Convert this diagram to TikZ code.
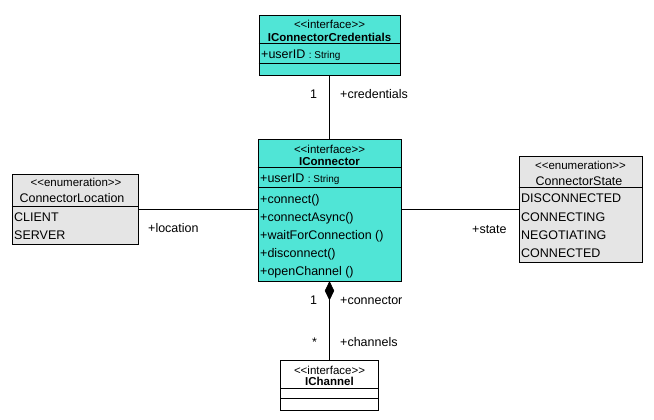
\documentclass[tikz,border=0pt]{standalone}
\usepackage{fontspec}
\setmainfont{Liberation Sans}
\usetikzlibrary{positioning, shapes.geometric}

\definecolor{ifacecyan}{RGB}{80,229,214}
\definecolor{enumgray}{RGB}{229,229,229}

\tikzset{
  classbox/.style={draw, line width=0.9pt, inner sep=0pt},
  txt/.style={inner sep=0pt, text height=9pt, text depth=0pt, anchor=west, font=\fontsize{12.5}{14}\selectfont},
  stereo/.style={inner sep=0pt, text height=9pt, text depth=0pt, font=\fontsize{11.5}{13}\selectfont},
  title/.style={stereo, font=\fontsize{11.5}{13}\selectfont\bfseries},
  link/.style={line width=0.9pt}
}

\begin{document}
\begin{tikzpicture}[x=1pt, y=-1pt]
\useasboundingbox (0,0) rectangle (654,420);

% boxes
\node[classbox, fill=ifacecyan, minimum width=141pt, minimum height=60pt] (cred) at (329.5,45) {};
\node[classbox, fill=ifacecyan, minimum width=143pt, minimum height=142pt] (conn) at (329.5,210) {};
\node[classbox, fill=enumgray, minimum width=126pt, minimum height=70pt] (loc) at (75,209) {};
\node[classbox, fill=enumgray, minimum width=123pt, minimum height=106pt] (state) at (580.5,209) {};
\node[classbox, fill=white, minimum width=98pt, minimum height=50pt] (chan) at (329.5,385) {};

% compartments
\draw[link] (cred.west |- 0,43) -- (cred.east |- 0,43);
\draw[link] (cred.west |- 0,63) -- (cred.east |- 0,63);
\draw[link] (conn.west |- 0,167) -- (conn.east |- 0,167);
\draw[link] (conn.west |- 0,187) -- (conn.east |- 0,187);
\draw[link] (loc.west |- 0,206) -- (loc.east |- 0,206);
\draw[link] (state.west |- 0,187) -- (state.east |- 0,187);
\draw[link] (chan.west |- 0,388) -- (chan.east |- 0,388);
\draw[link] (chan.west |- 0,398) -- (chan.east |- 0,398);

% IConnectorCredentials
\node[stereo] (credS) at (329.5,24) {<{}<interface>{}>};
\node[title] (credN) at (329.5,37) {IConnectorCredentials};
\node[txt] (credA) at (261,54) {+userID {\fontsize{10}{12}\selectfont : String}};

% IConnector
\node[stereo] (connS) at (329.5,149) {<{}<interface>{}>};
\node[title] (connN) at (329.5,161) {IConnector};
\node[txt] (connA) at (260,178) {+userID {\fontsize{10}{12}\selectfont : String}};
\node[txt] (op1) at (260,199) {+connect()};
\node[txt] (op2) at (260,217) {+connectAsync()};
\node[txt] (op3) at (260,235) {+waitForConnection ()};
\node[txt] (op4) at (260,253) {+disconnect()};
\node[txt] (op5) at (260,271) {+openChannel ()};

% ConnectorLocation
\node[stereo] (locS) at (76,182) {<{}<enumeration>{}>};
\node[stereo, font=\fontsize{12.5}{14}\selectfont] (locN) at (72,198) {ConnectorLocation};
\node[txt] (loc1) at (14,217) {CLIENT};
\node[txt] (loc2) at (14,235) {SERVER};

% ConnectorState
\node[stereo] (stateS) at (580.5,165) {<{}<enumeration>{}>};
\node[stereo, font=\fontsize{12.5}{14}\selectfont] (stateN) at (579,181) {ConnectorState};
\node[txt] (st1) at (521,198) {DISCONNECTED};
\node[txt] (st2) at (521,217) {CONNECTING};
\node[txt] (st3) at (521,235) {NEGOTIATING};
\node[txt] (st4) at (521,253) {CONNECTED};

% IChannel
\node[stereo] (chanS) at (329.5,370) {<{}<interface>{}>};
\node[title] (chanN) at (329.5,381) {IChannel};

% associations
\draw[link] (cred.south) -- (conn.north);
\draw[link] (loc.east) -- (loc.east -| conn.west);
\draw[link] (state.west) -- (state.west -| conn.east);
\node[diamond, draw, fill=black, line width=0.6pt, inner sep=0pt, minimum width=9pt, minimum height=18pt, anchor=north] (dia) at (conn.south) {};
\draw[link] (dia.south) -- (chan.north);

% role labels
\node[txt] (m1) at (310,94) {1};
\node[txt] (r1) at (340,94) {+credentials};
\node[txt] (r2) at (148,228) {+location};
\node[txt] (r3) at (472,229) {+state};
\node[txt] (m2) at (310,300) {1};
\node[txt] (r4) at (340,300) {+connector};
\node[txt] (m3) at (312,342) {*};
\node[txt] (r5) at (340,342) {+channels};

\end{tikzpicture}
\end{document}
